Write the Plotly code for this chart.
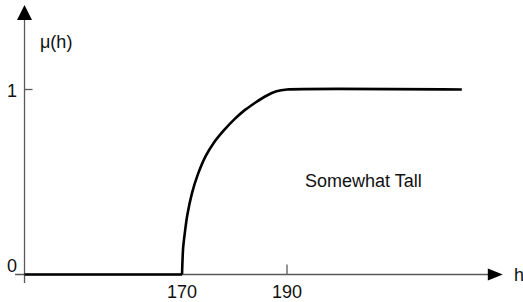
import plotly.graph_objects as go

# Membership function "Somewhat Tall"
h_flat = [140, 170]
mu_flat = [0, 0]
h_curve = [170, 170.2, 170.6, 171.0, 171.9, 173.0, 174.5, 176.0, 178.0, 180.0,
           182.0, 184.0, 186.0, 188.0, 190.0, 223.3]
mu_curve = [0, 0.14, 0.24, 0.32, 0.44, 0.54, 0.64, 0.71, 0.78, 0.84,
            0.89, 0.93, 0.965, 0.99, 1.0, 1.0]

x_ticks = [170, 190]
x_tick_labels = ["170", "190"]
y_ticks = [0, 1]
y_tick_labels = ["0", "1"]

FONT = "Liberation Sans, Arial, Helvetica, sans-serif"
AX = "#5a5a5a"

fig = go.Figure()
fig.add_trace(go.Scatter(x=h_flat, y=mu_flat, mode="lines",
                         line=dict(color="black", width=2.6), hoverinfo="skip"))
fig.add_trace(go.Scatter(x=h_curve, y=mu_curve, mode="lines",
                         line=dict(color="black", width=2.6, shape="spline", smoothing=0.6),
                         hoverinfo="skip"))

x0, y0 = 140, 0
shapes = [
    # x axis
    dict(type="line", xref="x", yref="y", x0=138.2, x1=229, y0=y0, y1=y0,
         line=dict(color=AX, width=1.3), layer="below"),
    # y axis
    dict(type="line", xref="x", yref="y", x0=x0, x1=x0, y0=-0.046, y1=1.39,
         line=dict(color=AX, width=1.3), layer="below"),
    # arrow heads
    dict(type="path", xref="x", yref="y", xsizemode="pixel", ysizemode="pixel",
         xanchor=x0, yanchor=1.457, path="M0,0 L-7.5,-15 L7.5,-15 Z",
         fillcolor="black", line=dict(width=0)),
    dict(type="path", xref="x", yref="y", xsizemode="pixel", ysizemode="pixel",
         xanchor=231.1, yanchor=y0, path="M0,0 L-15,6 L-15,-6 Z",
         fillcolor="black", line=dict(width=0)),
    # tick at y=1
    dict(type="line", xref="x", yref="y", xsizemode="pixel", xanchor=x0,
         x0=0, x1=8, y0=y_ticks[1], y1=y_ticks[1], line=dict(color=AX, width=1.3)),
    # tick at 190
    dict(type="line", xref="x", yref="y", ysizemode="pixel", yanchor=y0,
         x0=x_ticks[1], x1=x_ticks[1], y0=0, y1=10, line=dict(color=AX, width=1.3)),
]

ann = []
def txt(x, y, t, anchor="center"):
    ann.append(dict(x=x, y=y, xref="x", yref="y", text=t, showarrow=False,
                    xanchor=anchor, yanchor="middle",
                    font=dict(family=FONT, size=18, color="#111111")))

for xv, lab in zip(x_ticks, x_tick_labels):
    txt(xv, -0.095, lab)
txt(137.7, 0.046, y_tick_labels[0])
txt(137.7, 0.992, y_tick_labels[1])
txt(146.0, 1.257, "μ(h)")
txt(232.9, 0.0, "h", anchor="left")
txt(204.5, 0.505, "Somewhat Tall")

fig.update_layout(
    width=523, height=302,
    margin=dict(l=0, r=0, t=0, b=0),
    paper_bgcolor="white", plot_bgcolor="white",
    showlegend=False,
    hovermode=False,
    xaxis=dict(range=[135.33, 234.95], visible=False, fixedrange=True),
    yaxis=dict(range=[-0.1486, 1.4838], visible=False, fixedrange=True),
    shapes=shapes, annotations=ann,
)
fig.write_html("out.html",
               config={"displayModeBar": False, "staticPlot": True},
               post_script="document.body.style.margin='0';"
                           "document.body.style.overflow='hidden';")
